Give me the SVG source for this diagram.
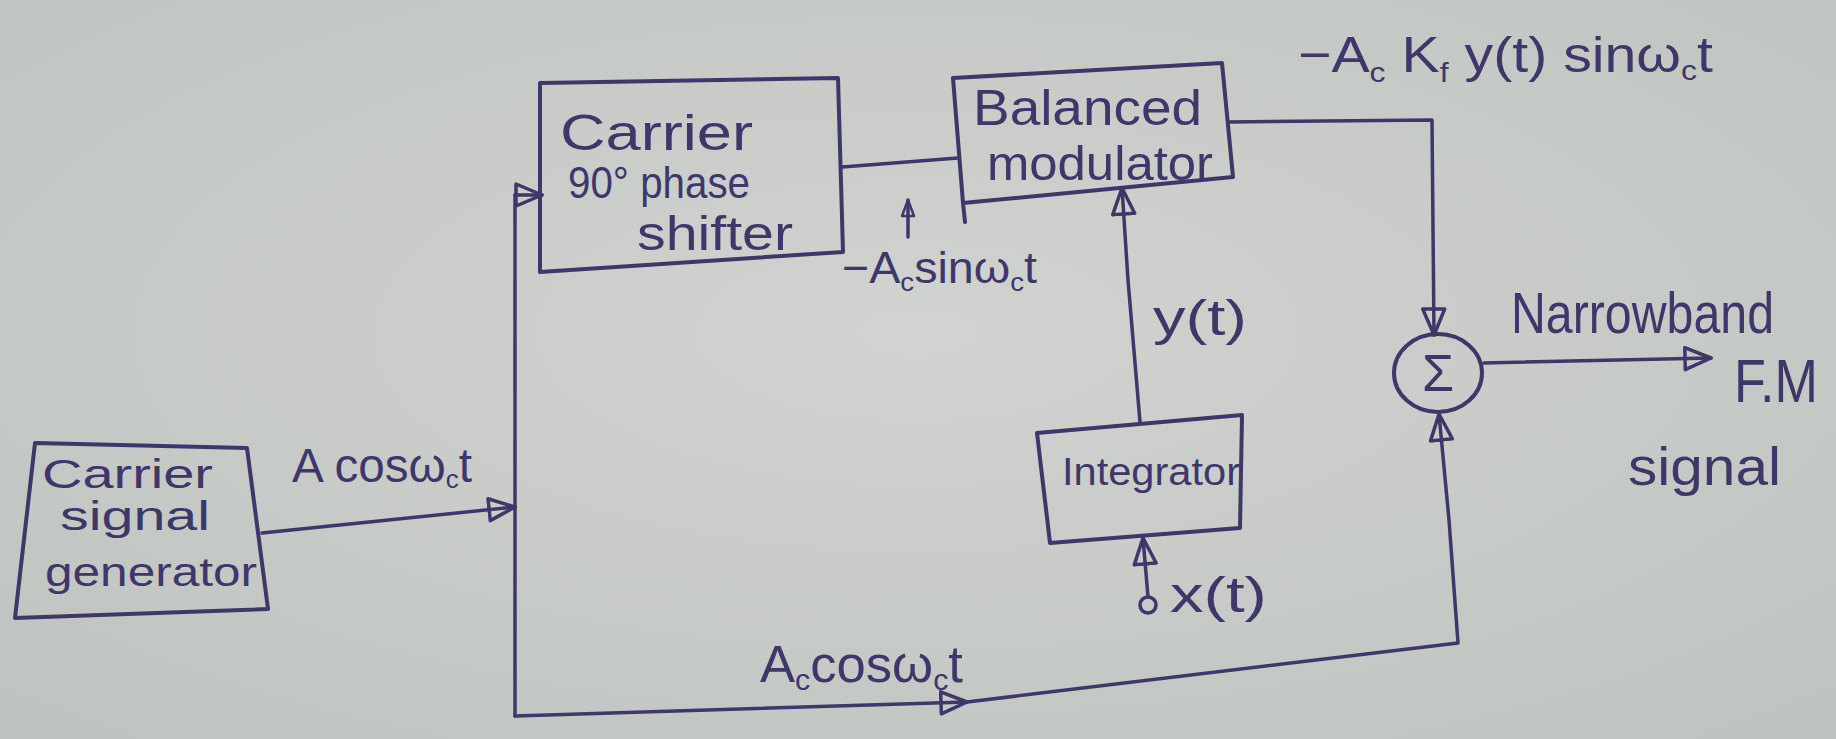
<svg xmlns="http://www.w3.org/2000/svg" width="1836" height="739" viewBox="0 0 1836 739">
<defs>
<radialGradient id="bg" cx="50%" cy="45%" r="70%">
<stop offset="0" stop-color="#d0d3d0"/>
<stop offset="1" stop-color="#c0c4c1"/>
</radialGradient>
<marker id="arr" viewBox="0 0 30 26" refX="28" refY="13" markerWidth="30" markerHeight="26" markerUnits="userSpaceOnUse" orient="auto">
<path d="M2,2 L28,13 L2,24 Z" fill="none" stroke="#3f366a" stroke-width="3.5" stroke-linejoin="round"/>
</marker>
<marker id="arrs" viewBox="0 0 20 16" refX="18" refY="8" markerWidth="20" markerHeight="16" markerUnits="userSpaceOnUse" orient="auto">
<path d="M2,2 L18,8 L2,14 Z" fill="none" stroke="#3f366a" stroke-width="2.5" stroke-linejoin="round"/>
</marker>
</defs>
<style>
.box{fill:none;stroke:#3f366a;stroke-width:4;stroke-linejoin:round;stroke-linecap:round}
.ln{fill:none;stroke:#3f366a;stroke-width:3.5;stroke-linejoin:round;stroke-linecap:round}
.t{font-family:"Liberation Sans","DejaVu Sans",sans-serif;fill:#3f366a}
</style>
<rect x="0" y="0" width="1836" height="739" fill="url(#bg)"/>

<g id="carrier-generator">
<polygon class="box" points="35,443 247,448 268,609 15,618"/>
<text class="t" x="42" y="488" font-size="40" textLength="171" lengthAdjust="spacingAndGlyphs">Carrier</text>
<text class="t" x="60" y="530" font-size="40" textLength="150" lengthAdjust="spacingAndGlyphs">signal</text>
<text class="t" x="45" y="586" font-size="40" textLength="212" lengthAdjust="spacingAndGlyphs">generator</text>
</g>

<g id="phase-shifter">
<polygon class="box" points="540,83 838,78 843,252 540,272"/>
<text class="t" x="560" y="150" font-size="50" textLength="193" lengthAdjust="spacingAndGlyphs">Carrier</text>
<text class="t" x="568" y="198" font-size="44" textLength="182" lengthAdjust="spacingAndGlyphs">90° phase</text>
<text class="t" x="637" y="250" font-size="48" textLength="156" lengthAdjust="spacingAndGlyphs">shifter</text>
</g>

<g id="balanced-modulator">
<path class="box" d="M953,78 L1222,63 L1233,177 L963,203 Z M963,203 L965,222"/>
<text class="t" x="973" y="125" font-size="50" textLength="229" lengthAdjust="spacingAndGlyphs">Balanced</text>
<text class="t" x="987" y="180" font-size="48" textLength="226" lengthAdjust="spacingAndGlyphs">modulator</text>
</g>

<g id="integrator">
<polygon class="box" points="1037,433 1242,415 1240,528 1050,543"/>
<text class="t" x="1062" y="485" font-size="38" textLength="178" lengthAdjust="spacingAndGlyphs">Integrator</text>
</g>

<g id="summer">
<ellipse class="box" cx="1438" cy="373" rx="44" ry="39"/>
<text class="t" x="1438" y="391" font-size="52" text-anchor="middle">Σ</text>
</g>

<g id="connectors">
<polyline class="ln" points="262,533 515,507" marker-end="url(#arr)"/>
<polyline class="ln" points="515,195 515,716"/>
<polyline class="ln" points="515,195 542,195" marker-end="url(#arr)"/>
<polyline class="ln" points="842,167 958,158"/>
<polyline class="ln" points="908,237 908,200" marker-end="url(#arrs)"/>
<polyline class="ln" points="1140,422 1128,280 1122,188" marker-end="url(#arr)"/>
<polyline class="ln" points="1230,122 1432,120 1434,335" marker-end="url(#arr)"/>
<polyline class="ln" points="1484,363 1711,358" marker-end="url(#arr)"/>
<circle class="ln" cx="1148" cy="605" r="8"/>
<polyline class="ln" points="1148,597 1143,538" marker-end="url(#arr)"/>
<polyline class="ln" points="515,716 967,702" marker-end="url(#arr)"/>
<polyline class="ln" points="967,702 1458,643 1449,520 1439,414" marker-end="url(#arr)"/>
</g>

<g id="labels">
<text class="t" x="292" y="482" font-size="48" textLength="180" lengthAdjust="spacingAndGlyphs">A cosω<tspan font-size="26" dy="6">c</tspan><tspan dy="-6">t</tspan></text>
<text class="t" x="842" y="283" font-size="44" textLength="195" lengthAdjust="spacingAndGlyphs">−A<tspan font-size="26" dy="8">c</tspan><tspan dy="-8">sinω</tspan><tspan font-size="26" dy="8">c</tspan><tspan dy="-8">t</tspan></text>
<text class="t" x="1298" y="72" font-size="50" textLength="415" lengthAdjust="spacingAndGlyphs">−A<tspan font-size="28" dy="10">c</tspan><tspan dy="-10"> K</tspan><tspan font-size="28" dy="10">f</tspan><tspan dy="-10"> y(t) sinω</tspan><tspan font-size="28" dy="8">c</tspan><tspan dy="-8">t</tspan></text>
<text class="t" x="1153" y="335" font-size="50" textLength="94" lengthAdjust="spacingAndGlyphs">y(t)</text>
<text class="t" x="1170" y="612" font-size="50" textLength="97" lengthAdjust="spacingAndGlyphs">x(t)</text>
<text class="t" x="1511" y="333" font-size="58" textLength="263" lengthAdjust="spacingAndGlyphs">Narrowband</text>
<text class="t" x="1734" y="402" font-size="62" textLength="84" lengthAdjust="spacingAndGlyphs">F.M</text>
<text class="t" x="1628" y="485" font-size="54" textLength="153" lengthAdjust="spacingAndGlyphs">signal</text>
<text class="t" x="760" y="682" font-size="52" textLength="203" lengthAdjust="spacingAndGlyphs">A<tspan font-size="30" dy="8">c</tspan><tspan dy="-8">cosω</tspan><tspan font-size="30" dy="8">c</tspan><tspan dy="-8">t</tspan></text>
</g>
</svg>
